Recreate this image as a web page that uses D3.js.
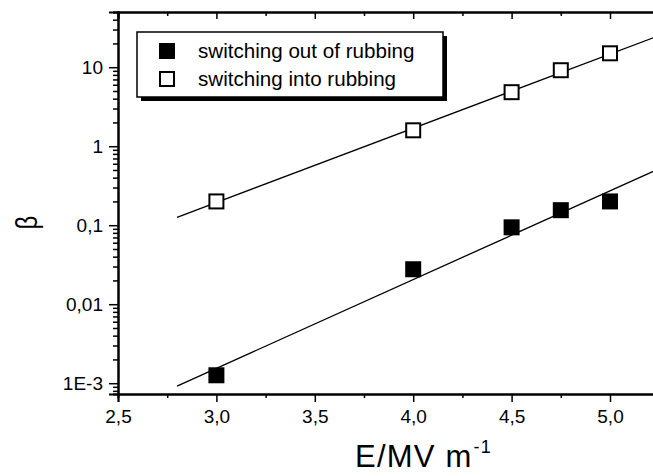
<!DOCTYPE html>
<html lang="en">
<head>
    <meta charset="UTF-8">
    <title>beta vs E</title>
    <script src="https://d3js.org/d3.v7.min.js"></script>
    <style>
        body { margin: 0; background: #fff; }
        svg { display: block; }
        text { font-family: "Liberation Sans", Arial, sans-serif; fill: #000; }
    </style>
</head>
<body>
<script>
    const width = 653
    const height = 476

    // data
    const fieldE = [3.0, 4.0, 4.5, 4.75, 5.0]
    const betaOut = [0.00126, 0.0277, 0.094, 0.155, 0.2]
    const betaInto = [0.2, 1.59, 4.83, 9.16, 15.0]
    // fitted lines (end points)
    const fitE = [2.8, 5.25]
    const fitOut = [0.00092, 0.52]
    const fitInto = [0.126, 25.2]
    const xTicks = [2.5, 3.0, 3.5, 4.0, 4.5, 5.0]
    const yTicks = [0.001, 0.01, 0.1, 1, 10]
    const yTickLabels = ['1E-3', '0,01', '0,1', '1', '10']
    const legendLabels = ['switching out of rubbing', 'switching into rubbing']

    var x = d3.scaleLinear()
        .domain([2.5, 5.25])
        .range([118, 659.2])
    var y = d3.scaleLog()
        .domain([0.00073, 50])
        .range([394, 12])

    var svg = d3.select("body")
        .append("svg")
        .attr("width", width)
        .attr("height", height)

    var comma = function (v) { return d3.format(".1f")(v).replace('.', ',') }

    // bottom axis
    var xMinor = d3.range(2.75, 5.3, 0.5)
    svg.append("g")
        .attr("transform", "translate(0,394)")
        .call(d3.axisBottom(x).tickValues(xMinor).tickSize(4).tickFormat(""))
    svg.append("g")
        .attr("class", "xaxis")
        .attr("transform", "translate(0,394)")
        .call(d3.axisBottom(x).tickValues(xTicks).tickSize(8).tickPadding(8).tickFormat(comma))
    // top axis, ticks pointing in
    svg.append("g")
        .attr("transform", "translate(0,12)")
        .call(d3.axisBottom(x).tickValues(xMinor).tickSize(4).tickFormat(""))
    svg.append("g")
        .attr("transform", "translate(0,12)")
        .call(d3.axisBottom(x).tickValues(xTicks).tickSize(7).tickFormat(""))

    // left axis
    var yMinor = y.ticks().filter(function (d) { return yTicks.indexOf(d) < 0 })
    svg.append("g")
        .attr("transform", "translate(118,0)")
        .call(d3.axisLeft(y).tickValues(yMinor).tickSize(5).tickFormat(""))
    svg.append("g")
        .attr("class", "yaxis")
        .attr("transform", "translate(118,0)")
        .call(d3.axisLeft(y).tickValues(yTicks).tickSize(9).tickPadding(6)
            .tickFormat(function (d, i) { return yTickLabels[i] }))
    // right axis (cut off by the page edge)
    svg.append("g")
        .attr("transform", "translate(659.2,0)")
        .call(d3.axisLeft(y).tickValues(yTicks).tickSize(-8).tickFormat(""))
    svg.append("g")
        .attr("transform", "translate(659.2,0)")
        .call(d3.axisLeft(y).tickValues(yMinor).tickSize(-4).tickFormat(""))

    svg.selectAll(".domain").attr("stroke-width", 2).attr("stroke", "#000")
    svg.selectAll(".tick line").attr("stroke-width", 1.5).attr("stroke", "#000")
    svg.selectAll(".xaxis text, .yaxis text")
        .attr("font-size", 19)
        .attr("font-family", "Liberation Sans, Arial, sans-serif")

    // fit lines
    var line = d3.line()
        .x(function (d) { return x(d[0]) })
        .y(function (d) { return y(d[1]) })
    svg.append("path")
        .datum(d3.zip(fitE, fitOut))
        .attr("d", line)
        .attr("fill", "none")
        .attr("stroke", "#000")
        .attr("stroke-width", 1.3)
    svg.append("path")
        .datum(d3.zip(fitE, fitInto))
        .attr("d", line)
        .attr("fill", "none")
        .attr("stroke", "#000")
        .attr("stroke-width", 1.3)

    // markers
    svg.append("g")
        .selectAll("rect")
        .data(d3.zip(fieldE, betaOut))
        .enter()
        .append("rect")
        .attr("x", function (d) { return x(d[0]) - 8 })
        .attr("y", function (d) { return y(d[1]) - 8 })
        .attr("width", 16)
        .attr("height", 16)
        .attr("fill", "#000")
    svg.append("g")
        .selectAll("rect")
        .data(d3.zip(fieldE, betaInto))
        .enter()
        .append("rect")
        .attr("x", function (d) { return x(d[0]) - 7 })
        .attr("y", function (d) { return y(d[1]) - 7 })
        .attr("width", 14)
        .attr("height", 14)
        .attr("fill", "#fff")
        .attr("stroke", "#000")
        .attr("stroke-width", 2)

    // legend with drop shadow
    svg.append("rect")
        .attr("x", 141).attr("y", 36)
        .attr("width", 306).attr("height", 65)
        .attr("fill", "#000")
    svg.append("rect")
        .attr("x", 137).attr("y", 32)
        .attr("width", 306).attr("height", 65)
        .attr("fill", "#fff")
        .attr("stroke", "#000")
        .attr("stroke-width", 1.5)
    svg.append("rect")
        .attr("x", 159).attr("y", 43)
        .attr("width", 16).attr("height", 16)
        .attr("fill", "#000")
    svg.append("rect")
        .attr("x", 160).attr("y", 72)
        .attr("width", 14).attr("height", 14)
        .attr("fill", "#fff")
        .attr("stroke", "#000")
        .attr("stroke-width", 2)
    svg.selectAll(".legtext")
        .data(legendLabels)
        .enter()
        .append("text")
        .attr("class", "legtext")
        .text(function (d) { return d })
        .attr("x", 198)
        .attr("y", function (d, i) { return 58 + i * 28 })
        .attr("font-size", 20.6)

    // axis titles
    var xt = svg.append("text")
        .attr("x", 355)
        .attr("y", 467)
        .attr("font-size", 31)
        .attr("letter-spacing", 1.2)
    xt.append("tspan").text("E/MV m")
    xt.append("tspan").text("-1").attr("font-size", 18).attr("dx", 1).attr("dy", -14)

    svg.append("text")
        .text("β")
        .attr("font-size", 30)
        .attr("text-anchor", "middle")
        .attr("transform", "translate(37,222.5) rotate(-90) scale(0.8,1)")
</script>
</body>
</html>
